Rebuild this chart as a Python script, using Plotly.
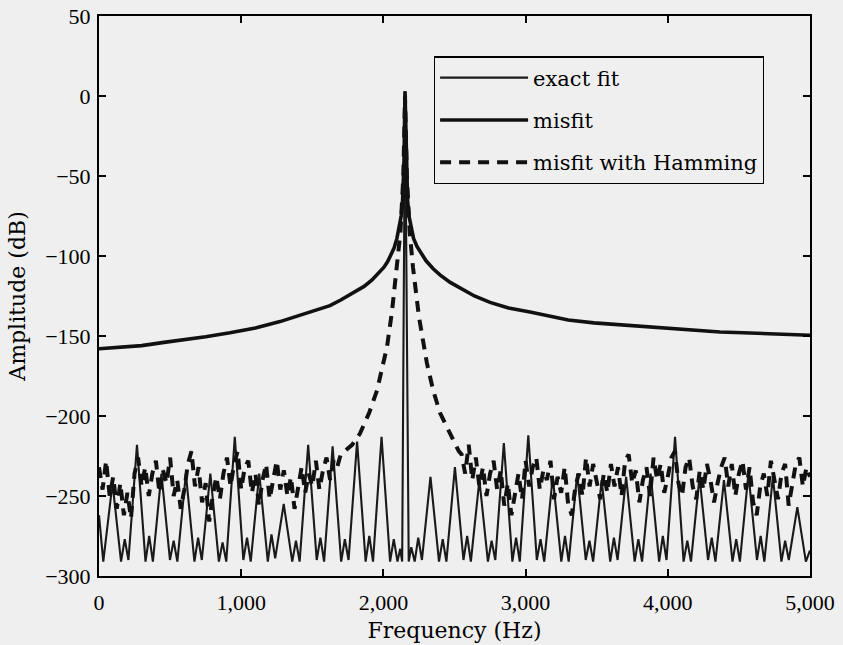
import plotly.graph_objects as go

# ---------------- data ----------------
# exact fit: thin solid line (vertices of the periodic pattern + central spike)
exact_f = [0, 30, 95, 155, 181, 207, 267, 327, 353, 379, 439, 499, 525, 551, 611,
           671, 697, 723, 783, 843, 869, 895, 955, 1015, 1041, 1067, 1127, 1187, 1213,
           1239, 1299, 1359, 1385, 1411, 1471, 1531, 1557, 1583, 1643, 1703, 1729, 1755,
           1815, 1875, 1901, 1927, 1987, 2047, 2073, 2099, 2118, 2132, 2152, 2178, 2196,
           2220, 2245, 2271, 2331, 2391, 2417, 2443, 2503, 2563, 2589, 2615, 2675, 2735,
           2761, 2787, 2847, 2907, 2933, 2959, 3019, 3079, 3105, 3131, 3191, 3251, 3277,
           3303, 3363, 3423, 3449, 3475, 3535, 3595, 3621, 3647, 3707, 3767, 3793, 3819,
           3879, 3939, 3965, 3991, 4051, 4111, 4137, 4163, 4223, 4283, 4309, 4335, 4395,
           4455, 4481, 4507, 4567, 4627, 4653, 4679, 4739, 4799, 4825, 4851, 4911, 4971,
           5000]
exact_db = [-262, -291, -242, -291, -277, -290, -218, -291, -275, -291, -236, -290, -278, -291, -236,
            -291, -276, -290, -236, -291, -279, -291, -213, -290, -276, -291, -236, -291, -274,
            -289, -255, -291, -278, -291, -218, -290, -276, -291, -219, -291, -277, -290,
            -216, -291, -275, -291, -213, -291, -277, -291, -283, -291, 3, -291, -282,
            -291, -276, -290, -238, -291, -277, -291, -232, -290, -275, -291, -240, -291,
            -278, -290, -217, -291, -276, -291, -212, -290, -277, -291, -238, -291, -275,
            -291, -236, -290, -278, -291, -240, -291, -276, -290, -238, -291, -277, -291,
            -236, -291, -275, -290, -213, -291, -278, -291, -238, -290, -276, -291, -240,
            -291, -277, -291, -236, -290, -275, -291, -238, -291, -278, -290, -257, -291,
            -284]

# misfit: thick solid line
misfit_f = [0, 150, 300, 457, 600, 750, 921, 1100, 1273, 1400, 1524, 1624, 1700, 1780,
            1864, 1920, 1970, 2004, 2030, 2055, 2075, 2095, 2110, 2125, 2135, 2145, 2152,
            2160, 2170, 2180, 2195, 2212, 2236, 2270, 2300, 2350, 2400, 2470, 2539, 2640,
            2750, 2880, 3031, 3170, 3300, 3480, 3664, 3830, 4000, 4180, 4367, 4530, 4700,
            4850, 5000]
misfit_db = [-158, -157, -156, -154, -152.5, -150.5, -148, -145, -141, -137.5, -134, -131,
             -127.5, -123.5, -119, -115, -110.5, -107, -103.5, -99, -95, -89, -83, -75, -65,
             -40, 3, -40, -65, -75, -83, -89, -94, -99, -103, -108, -112, -116.5, -120, -125,
             -129, -132.5, -135, -137.8, -140, -141.8, -143, -144.3, -145.5, -146.6, -147.5,
             -148, -148.5, -149, -149.5]

# misfit with Hamming window: dashed line
hamming_f = [0, 25, 50, 75, 100, 125, 150, 175, 200, 225, 250, 275, 300, 325, 350, 375, 400,
             425, 450, 475, 500, 525, 550, 575, 600, 625, 650, 675, 700, 725, 750, 775, 800,
             825, 850, 875, 900, 925, 950, 975, 1000, 1025, 1050, 1075, 1100, 1125, 1150,
             1175, 1200, 1225, 1250, 1275, 1300, 1325, 1350, 1375, 1400, 1425, 1450, 1475,
             1500, 1525, 1550, 1575, 1600, 1625, 1650, 1675, 1700, 1725,
             1780, 1835, 1900, 1955, 2000, 2025, 2060, 2096, 2120, 2140, 2152, 2165, 2185,
             2208, 2250, 2306, 2350, 2398, 2450, 2490, 2530,
             2550, 2575, 2600, 2625, 2650, 2675, 2700, 2725, 2750, 2775, 2800, 2825, 2850,
             2875, 2900, 2925, 2950, 2975, 3000, 3025, 3050, 3075, 3100, 3125, 3150, 3175,
             3200, 3225, 3250, 3275, 3300, 3325, 3350, 3375, 3400, 3425, 3450, 3475, 3500,
             3525, 3550, 3575, 3600, 3625, 3650, 3675, 3700, 3725, 3750, 3775, 3800, 3825,
             3850, 3875, 3900, 3925, 3950, 3975, 4000, 4025, 4050, 4075, 4100, 4125, 4150,
             4175, 4200, 4225, 4250, 4275, 4300, 4325, 4350, 4375, 4400, 4425, 4450, 4475,
             4500, 4525, 4550, 4575, 4600, 4625, 4650, 4675, 4700, 4725, 4750, 4775, 4800,
             4825, 4850, 4875, 4900, 4925, 4950, 4975, 5000]
hamming_db = [-232, -246, -228, -250, -238, -258, -242, -262, -248, -264,
              -236, -226, -244, -232, -250, -236, -228, -248, -234, -242,
              -226, -250, -240, -258, -246, -230, -222, -244, -232, -254,
              -242, -266, -250, -238, -252, -236, -226, -244, -230, -222,
              -246, -232, -228, -248, -236, -256, -240, -230, -252, -238,
              -228, -246, -234, -250, -238, -258, -244, -232, -248, -236,
              -244, -228, -246, -234, -226, -240, -228, -232, -224, -222,
              -218, -211, -198, -184, -168, -157, -135, -107, -85, -50, 0, -50, -85,
              -107, -138, -167, -184, -198, -208, -215, -222,
              -224, -236, -218, -240, -226, -244, -232, -250, -236, -228,
              -246, -234, -256, -242, -262, -248, -236, -252, -228, -244,
              -232, -226, -246, -234, -240, -228, -252, -238, -248, -232,
              -256, -262, -244, -236, -250, -226, -244, -230, -240, -252,
              -236, -248, -230, -244, -232, -250, -228, -224, -242, -234,
              -254, -240, -232, -250, -226, -240, -230, -248, -238, -226,
              -222, -242, -250, -232, -226, -244, -252, -234, -246, -230,
              -240, -254, -242, -232, -226, -244, -230, -250, -236, -228,
              -246, -232, -254, -262, -244, -236, -250, -228, -240, -252,
              -236, -230, -256, -242, -230, -226, -244, -232, -238]

x_ticks = [0, 1000, 2000, 3000, 4000, 5000]
x_tick_text = ["0", "1,000", "2,000", "3,000", "4,000", "5,000"]
y_ticks = [-300, -250, -200, -150, -100, -50, 0, 50]
y_tick_text = ["\u2212300", "\u2212250", "\u2212200", "\u2212150", "\u2212100", "\u221250", "0", "50"]

NUM_FONT = "Liberation Serif"
TXT_FONT = "DejaVu Serif"
BG = "#efefef"

fig = go.Figure()
fig.add_trace(go.Scatter(x=exact_f, y=exact_db, mode="lines", name="exact fit",
                         legendgroup="a", line=dict(color="#1a1a1a", width=2.1)))
fig.add_trace(go.Scatter(x=misfit_f, y=misfit_db, mode="lines", name="misfit",
                         legendgroup="b", line=dict(color="#111111", width=3.6)))
fig.add_trace(go.Scatter(x=hamming_f, y=hamming_db, mode="lines", name="misfit with Hamming",
                         legendgroup="c", line=dict(color="#111111", width=4, dash="11px,8px")))

axis_common = dict(showline=True, linecolor="black", linewidth=2, mirror="ticks",
                   ticks="inside", ticklen=7, tickwidth=1.5, tickcolor="black",
                   showgrid=False, zeroline=False, automargin=False,
                   tickfont=dict(family=NUM_FONT, size=22, color="black"))

fig.update_xaxes(range=[0, 5000], tickvals=x_ticks, ticktext=x_tick_text,
                 title=dict(text="Frequency (Hz)", font=dict(family=TXT_FONT, size=22, color="black"), standoff=8),
                 ticklabelstandoff=6, **axis_common)
fig.update_yaxes(range=[-300, 50], tickvals=y_ticks, ticktext=y_tick_text,
                 title=dict(text="Amplitude (dB)", font=dict(family=TXT_FONT, size=22, color="black"), standoff=13),
                 ticklabelstandoff=2, **axis_common)

fig.update_layout(
    width=843, height=645,
    margin=dict(l=99, r=33, t=16, b=69),
    paper_bgcolor=BG, plot_bgcolor=BG,
    font=dict(family=TXT_FONT, size=22, color="black"),
    legend=dict(x=0.471, y=0.928, xanchor="left", yanchor="top",
                bgcolor=BG, bordercolor="black", borderwidth=1.2,
                font=dict(family=TXT_FONT, size=21, color="black"),
                itemwidth=88, traceorder="grouped", tracegroupgap=12),
    showlegend=True,
)

fig.write_html("out.html")
